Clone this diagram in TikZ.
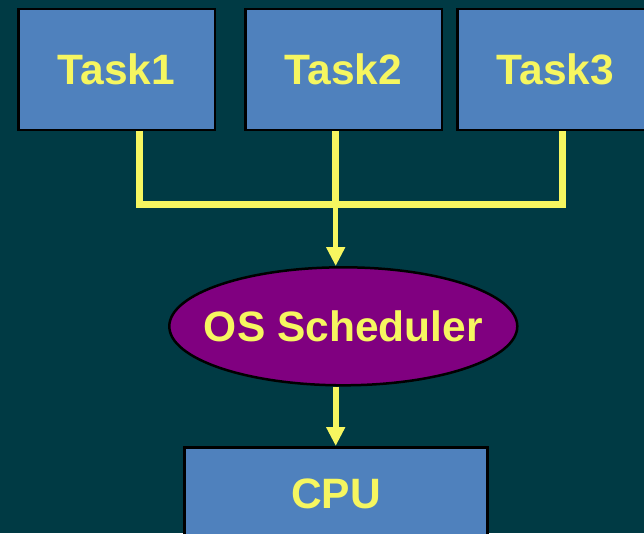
\documentclass[tikz,border=0pt]{standalone}
\usepackage{fontspec}
\setmainfont{Liberation Sans}
\usetikzlibrary{arrows.meta,shapes.geometric}

\definecolor{bgteal}{RGB}{0,58,68}
\definecolor{taskblue}{RGB}{79,129,189}
\definecolor{wireyellow}{RGB}{246,246,96}
\definecolor{schedpurple}{RGB}{128,0,128}

\tikzset{
  labeltext/.style={text=wireyellow, font=\bfseries\fontsize{42.5}{50}\selectfont,
    text height=31pt, text depth=0pt, inner sep=0pt},
  taskbox/.style={rectangle, draw=black, line width=2.5pt, fill=taskblue,
    minimum width=196.5pt, minimum height=121pt, labeltext},
  cpubox/.style={rectangle, draw=black, line width=2.5pt, fill=taskblue,
    minimum width=302.8pt, minimum height=91.5pt, labeltext},
  schedshape/.style={ellipse, draw=black, line width=2.5pt, fill=schedpurple,
    minimum width=348pt, minimum height=118pt, inner sep=0pt},
  wire/.style={draw=wireyellow, line width=6.5pt, line join=miter},
  feed/.style={draw=wireyellow, line width=5pt,
    -{Triangle[width=18pt,length=19pt]}},
}

\begin{document}
\begin{tikzpicture}[x=1pt, y=-1pt]
  % canvas
  \fill[bgteal] (0,0) rectangle (644,533);
  \useasboundingbox (0,0) rectangle (644,533);
  \clip (0,0) rectangle (644,533);

  % tasks
  \node[taskbox] (t1) at (116.55,69.25) {Task1};
  \node[taskbox] (t2) at (343.5,69.25) {Task2};
  \node[taskbox] (t3) at (555.5,69.25) {Task3};

  % scheduler and processor
  \node[schedshape, label={[labeltext]center:OS Scheduler}] (sched) at (343.3,326.3) {};
  \node[cpubox] (cpu) at (336.1,493) {CPU};

  % junction where the task lines meet
  \coordinate (j) at (335.7,204.7);
  \coordinate (jl) at (139.5,204.7);
  \coordinate (jr) at (562.7,204.7);

  % task lines into the common bus
  \draw[wire] (jl |- t1.south) -- (jl) -- (jr) -- (jr |- t3.south);
  \draw[wire] (j |- t2.south) -- (j);

  % bus to scheduler, scheduler to CPU
  \draw[feed] (j) -- (j |- sched.north);
  \draw[feed, line width=6pt] (j |- sched.south) -- (j |- cpu.north);
\end{tikzpicture}
\end{document}
